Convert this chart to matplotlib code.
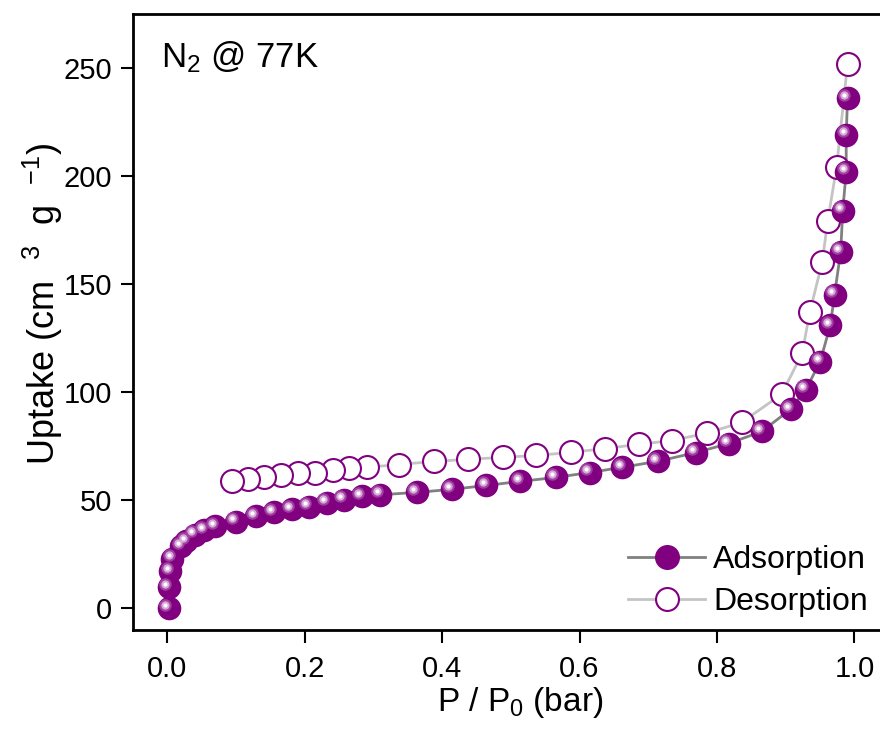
"""N2 sorption isotherm at 77 K."""

import matplotlib

matplotlib.use("Agg")
import matplotlib.pyplot as plt
from matplotlib.transforms import ScaledTranslation

plt.rcParams["font.family"] = ["Liberation Sans", "DejaVu Sans"]
plt.rcParams["mathtext.fontset"] = "custom"
plt.rcParams["mathtext.rm"] = "Liberation Sans"
plt.rcParams["mathtext.it"] = "Liberation Sans:italic"

# adsorption branch
ads_p = [0.002, 0.002, 0.004, 0.007, 0.020, 0.028, 0.040, 0.054, 0.070, 0.100,
         0.129, 0.155, 0.181, 0.206, 0.232, 0.257, 0.283, 0.310, 0.363, 0.414,
         0.464, 0.514, 0.565, 0.615, 0.662, 0.714, 0.769, 0.817, 0.865, 0.907,
         0.929, 0.950, 0.965, 0.971, 0.980, 0.983, 0.988, 0.988, 0.990]
ads_v = [0.0, 9.7, 17.0, 23.0, 28.6, 31.0, 34.0, 36.0, 38.0, 40.0,
         42.5, 44.3, 45.7, 47.0, 48.8, 50.3, 51.8, 52.5, 53.6, 55.0,
         56.8, 58.7, 60.5, 62.8, 65.2, 68.0, 72.0, 76.2, 81.8, 92.0,
         101.0, 114.0, 131.0, 145.0, 165.0, 184.0, 202.0, 219.0, 236.0]

# desorption branch (high to low pressure)
des_p = [0.990, 0.974, 0.961, 0.953, 0.935, 0.924, 0.894, 0.836, 0.785, 0.734,
         0.686, 0.637, 0.588, 0.537, 0.488, 0.437, 0.388, 0.337, 0.290, 0.264,
         0.241, 0.215, 0.190, 0.165, 0.141, 0.117, 0.094]
des_v = [252.0, 204.0, 179.0, 160.0, 137.0, 118.0, 99.0, 86.0, 81.0, 77.6,
         75.8, 73.9, 72.1, 70.7, 69.8, 68.9, 67.9, 66.5, 65.2, 64.7,
         63.8, 62.8, 62.4, 61.5, 60.5, 59.6, 58.7]

x_ticks = [0.0, 0.2, 0.4, 0.6, 0.8, 1.0]
y_ticks = [0, 50, 100, 150, 200, 250]

purple = "#800080"

fig = plt.figure(figsize=(8.8, 7.29), dpi=100)
ax = fig.add_axes([0.151, 0.136, 0.859, 0.845])

ax.plot(ads_p, ads_v, color="#808080", lw=2, zorder=2)
ax.plot(des_p, des_v, color="#c4c4c4", lw=2, zorder=2)

ax.plot(des_p, des_v, ls="none", marker="o", ms=16.5, mfc="white",
        mec=purple, mew=1.5, zorder=3)

# shaded spheres for the adsorption points
ax.plot(ads_p, ads_v, ls="none", marker="o", ms=17, mfc=purple,
        mec=purple, mew=0, zorder=4)
shift = ax.transData + ScaledTranslation(-2.5 / 72, 2.5 / 72, fig.dpi_scale_trans)
ax.plot(ads_p, ads_v, ls="none", marker="o", ms=9, mfc="#a040a0",
        mew=0, transform=shift, zorder=5)
ax.plot(ads_p, ads_v, ls="none", marker="o", ms=6, mfc="#d8a8d8",
        mew=0, transform=shift, zorder=6)
ax.plot(ads_p, ads_v, ls="none", marker="o", ms=3, mfc="white",
        mew=0, transform=shift, zorder=7)

# legend proxies
h_ads, = ax.plot([], [], color="#808080", lw=2, marker="o", ms=17,
                 mfc=purple, mec=purple)
h_des, = ax.plot([], [], color="#c4c4c4", lw=2, marker="o", ms=16.5,
                 mfc="white", mec=purple, mew=1.5)
ax.legend([h_ads, h_des], ["Adsorption", "Desorption"], loc="lower left",
          bbox_to_anchor=(0.63, -0.01), frameon=False, fontsize=23,
          handlelength=2.4, handletextpad=0.25, labelspacing=0.38,
          borderaxespad=0.2)

ax.text(0.037, 0.93, "N$_2$ @ 77K", transform=ax.transAxes, fontsize=25,
        va="center", ha="left")

ax.set_xlim(-0.05, 1.05)
ax.set_ylim(-10, 275)
ax.set_xticks(x_ticks)
ax.set_yticks(y_ticks)
ax.set_xticklabels([f"{t:.1f}" for t in x_ticks])
ax.tick_params(direction="out", length=9, width=1.5, labelsize=21)
ax.tick_params(axis="x", pad=9)
ax.tick_params(axis="y", pad=6)
ax.spines["right"].set_visible(False)
for sp in ax.spines.values():
    sp.set_linewidth(2)

ax.set_xlabel("P / P$_0$ (bar)", fontsize=24)
ax.set_ylabel("Uptake (cm  $^{3}$  g  $^{-1}$)", fontsize=26)
ax.xaxis.set_label_coords(0.512, -0.09)
ax.yaxis.set_label_coords(-0.09, 0.53)

fig.savefig("out.png", dpi=100)
